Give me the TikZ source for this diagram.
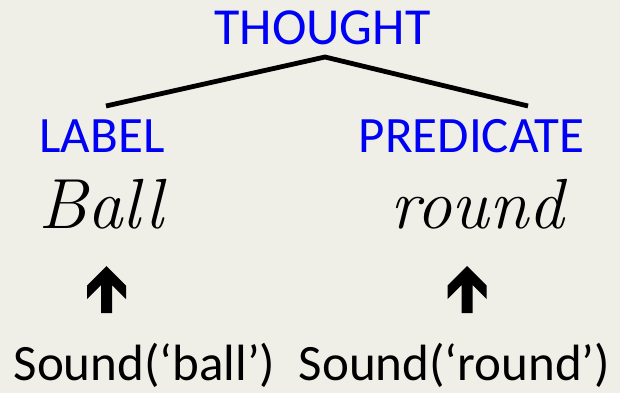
\documentclass[tikz,border=0pt]{standalone}
\usepackage{fontspec}
\newfontfamily\calib{Carlito}
\definecolor{bg}{HTML}{F0EFE7}
\definecolor{tblue}{HTML}{0000F5}
\tikzset{
  head/.style={inner sep=0pt, anchor=base, text=tblue, font=\calib\fontsize{51}{60}\selectfont},
  word/.style={inner sep=0pt, anchor=base, font=\itshape\fontsize{71}{80}\selectfont},
  snd/.style={inner sep=0pt, anchor=base, font=\calib\fontsize{51}{60}\selectfont},
  branch/.style={line width=4.8pt},
  uparr/.pic={\fill (0,0) -- (19.5,19.5) -- (19.5,33) -- (5.5,19) -- (5.5,47) -- (-5.5,47) -- (-5.5,19) -- (-19.5,33) -- (-19.5,19.5) -- cycle;}
}
\begin{document}
\begin{tikzpicture}[x=1pt,y=-1pt]
\fill[bg] (0,0) rectangle (620,393);
\useasboundingbox (0,0) rectangle (620,393);
\node[head, font=\calib\fontsize{52}{60}\selectfont] (thought) at (322.5,45) {THOUGHT};
\node[head] (label) at (102,152) {LABEL};
\node[head] (pred) at (471.5,152) {PREDICATE};
\coordinate (apex) at (325,57);
\coordinate (lend) at (106,106);
\coordinate (rend) at (528,106);
\draw[branch] (lend) -- (apex) -- (rend);
\node[word] (ball) at (101,228) {Ball};
\node[word] (round) at (477,228) {round};
\pic at (106.5,266) {uparr};
\pic at (467,266) {uparr};
\node[snd] (sball) at (144.5,380) {Sound(‘ball’)};
\node[snd] (sround) at (454.5,380) {Sound(‘round’)};
\end{tikzpicture}
\end{document}
